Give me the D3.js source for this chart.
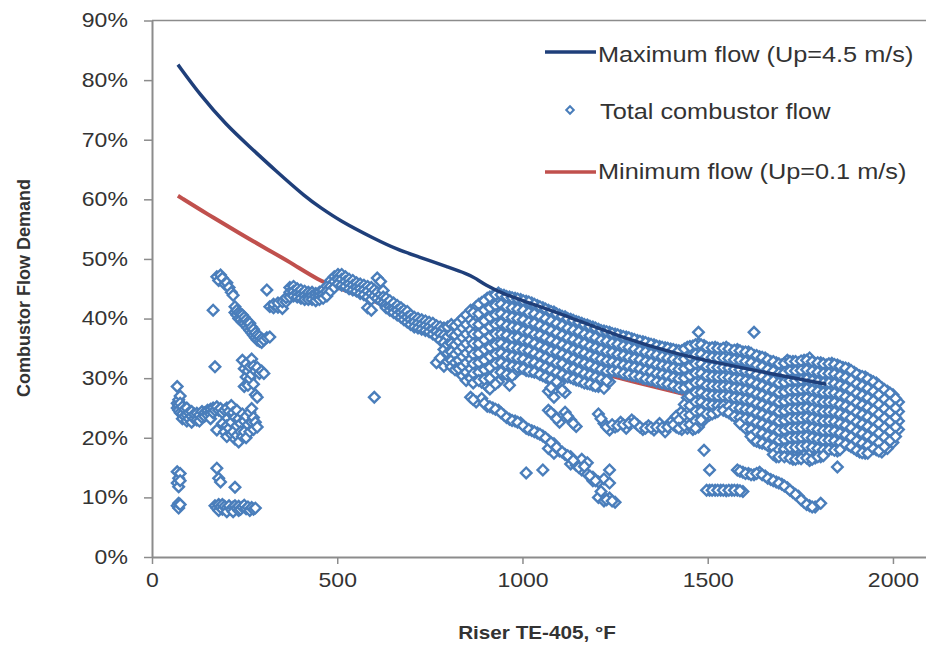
<!DOCTYPE html>
<html>
<head>
<meta charset="utf-8">
<script src="https://cdn.jsdelivr.net/npm/d3@7"></script>
<style>
  body { margin: 0; background: #fff; }
  text { font-family: "Liberation Sans", Arial, sans-serif; fill: #333; }
</style>
</head>
<body>
<svg width="926" height="646"></svg>
<script>
// x ticks (deg F) and y ticks (%)
var xTicks = [0, 500, 1000, 1500, 2000];
var yTicks = [0, 10, 20, 30, 40, 50, 60, 70, 80, 90];

// Maximum flow (Up=4.5 m/s)
var maxFlowX = [70, 130, 200, 264, 330, 418, 453, 507, 600, 661, 723, 800, 850, 870, 900, 947, 1000, 1101, 1263, 1425, 1533, 1650, 1785, 1820];
var maxFlowY = [82.6, 77.5, 72.5, 68.8, 65.0, 60.2, 58.7, 56.4, 53.4, 51.6, 50.3, 48.6, 47.5, 46.9, 45.6, 44.2, 43.0, 40.9, 36.9, 33.9, 32.5, 31.0, 29.4, 29.0];

// Minimum flow (Up=0.1 m/s)
var minFlowX = [70, 150, 237, 300, 372, 453, 500, 600, 705, 800, 900, 1000, 1100, 1190, 1300, 1450];
var minFlowY = [60.6, 57.5, 54.3, 52.0, 49.5, 46.3, 45.2, 42.9, 40.6, 38.7, 36.9, 35.0, 33.0, 31.2, 29.4, 27.1];

// Total combustor flow: [temperature, [flow %, ...]] read column by column
var totalFlow = [
  [68,[28.6,25.8,25.0,14.3,12.4,8.6]],
  [72,[26.4,25.4,24.6,13.2,11.8,8.2,9.0]],
  [76,[27.0,25.8,24.2,14.0,12.8,8.8]],
  [82,[25.2,24.0,23.2]],
  [88,[24.8,23.6]],
  [94,[25.0,23.8,22.8]],
  [100,[24.2,23.2]],
  [107,[23.6,22.6,24.4]],
  [114,[23.2,24.0]],
  [121,[24.1,23.0]],
  [128,[23.8,22.8]],
  [135,[24.4,23.4]],
  [142,[24.2,23.6]],
  [150,[24.6,23.8]],
  [158,[24.8,24.0,23.2]],
  [165,[25.0,24.2,41.4]],
  [170,[31.9,24.6,8.6]],
  [175,[47.0,25.2,21.3,14.9,8.2]],
  [180,[46.4,24.6,13.2,8.8,7.8]],
  [185,[47.3,24.9,12.6,8.4]],
  [190,[46.8,24.2,22.4,8.0,8.8]],
  [196,[45.8,24.6,21.0,8.5]],
  [202,[46.0,25.0,20.2,22.0,8.2,7.6]],
  [208,[45.2,24.4,21.6,8.6]],
  [214,[44.4,25.4,22.6,20.6,8.0]],
  [219,[43.9,24.2,21.0,8.4,7.6]],
  [224,[42.0,41.0,23.4,19.8,11.7,8.6]],
  [229,[41.4,40.6,24.6,22.0,20.4,8.2]],
  [234,[41.0,40.0,23.2,19.3,8.5,7.8]],
  [239,[40.8,39.8,22.4,21.0,8.0]],
  [244,[40.6,39.4,33.0,24.0,20.2,8.4]],
  [249,[40.2,39.2,31.6,28.6,22.8,21.0,8.7]],
  [254,[39.8,38.8,32.4,30.2,23.6,20.0,8.1]],
  [259,[39.4,38.4,31.2,28.8,22.2,8.4]],
  [264,[39.2,38.0,31.9,29.9,24.3,21.0,7.8]],
  [269,[38.6,37.6,33.2,30.6,24.9,22.6,8.3]],
  [274,[38.2,37.2,32.0,29.0,23.4,21.4,8.0]],
  [279,[37.6,36.8,31.2,27.2,22.6,8.2]],
  [284,[37.2,36.4,31.8,26.8,21.8]],
  [290,[37.0,36.2,30.8]],
  [296,[36.6,36.0,31.2]],
  [302,[36.4,30.8]],
  [310,[44.8,36.8]],
  [318,[42.0,36.9]],
  [328,[41.8,42.4]],
  [340,[41.9,42.6]],
  [352,[41.7,42.8]],
  [362,[42.8,43.5]],
  [372,[45.2,44.4,43.6]],
  [382,[45.4,44.6,43.8]],
  [392,[45.0,44.2,43.6]],
  [402,[44.8,44.0,43.4]],
  [412,[44.6,43.8,43.2]],
  [422,[44.4,43.6,43.2]],
  [432,[44.4,43.8,43.2]],
  [442,[44.2,43.6,43.0]],
  [452,[44.4,43.8,43.2]],
  [462,[44.8,44.0,43.4]],
  [472,[45.4,44.6,43.8]],
  [482,[46.4,45.4,44.6]],
  [492,[47.0,46.2,45.2]],
  [502,[47.4,46.6,45.8]],
  [512,[47.4,46.6,45.6]],
  [522,[47.0,46.2,45.4]],
  [532,[46.6,45.8,45.0]],
  [542,[46.4,45.6,44.8]],
  [552,[46.0,45.2,44.6]],
  [562,[45.8,45.0,44.2]],
  [572,[45.6,44.8,44.0]],
  [582,[45.4,44.6,43.6,41.8]],
  [592,[45.2,44.2,43.2,41.4]],
  [600,[44.8,43.8,26.8]],
  [608,[46.8,44.4,43.4]],
  [617,[46.2,44.0,43.0]],
  [624,[44.7,43.6,42.6]],
  [632,[43.4,42.4,41.8]],
  [642,[43.0,42.0,41.4]],
  [652,[42.6,41.6,41.0]],
  [662,[42.2,41.4,40.6]],
  [672,[41.8,41.0,40.2]],
  [680,[41.4,40.6,39.8]],
  [689,[41.2,40.2,39.4]],
  [698,[40.6,39.8,39.0]],
  [708,[40.2,39.4,38.6]],
  [718,[40.0,39.2,38.4]],
  [728,[39.8,39.0,38.2]],
  [738,[39.6,38.8,38.0]],
  [748,[39.4,38.6,37.8]],
  [758,[39.2,38.2,37.4]],
  [768,[38.8,37.8,37.0,32.6]],
  [778,[38.6,37.4,36.4,33.4]],
  [788,[38.4,37.2,36.0,34.8,32.0]],
  [798,[38.6,37.0,35.6,34.2,32.8]],
  [808,[39.0,37.4,35.8,34.4,33.0,31.9]],
  [818,[38.8,37.2,35.6,34.0,32.6,31.4]],
  [828,[39.4,37.8,36.2,34.6,33.0,31.6]],
  [838,[40.0,38.4,36.8,35.2,33.6,32.0,30.4]],
  [848,[40.6,39.0,37.4,35.8,34.2,32.6,31.0,29.6]],
  [860,[41.4,39.8,38.1,36.5,34.8,33.2,31.6,30.0,26.8]],
  [875,[42.0,40.5,38.9,37.2,35.6,33.9,32.3,30.6,26.0]],
  [890,[42.7,41.0,39.3,37.7,36.0,34.4,32.7,31.0,29.3,26.6]],
  [905,[43.4,41.8,40.1,38.5,36.8,35.2,33.5,31.9,30.2,28.6,25.3]],
  [920,[43.8,42.1,40.4,38.8,37.1,35.5,33.8,32.2,30.5,28.9,25.0]],
  [935,[44.3,42.6,41.0,39.3,37.7,36.0,34.4,32.7,31.1,29.4,24.6]],
  [950,[43.9,42.3,40.6,39.0,37.3,35.7,34.0,32.4,30.7,23.8]],
  [965,[43.6,41.9,40.3,38.6,37.0,35.3,33.7,32.0,30.4,28.8,23.1]],
  [980,[43.4,41.7,40.0,38.4,36.7,35.1,33.4,31.8,30.8,22.8]],
  [995,[43.2,41.5,39.9,38.2,36.6,34.9,33.3,31.6,22.5]],
  [1010,[42.9,41.2,39.6,37.9,36.3,34.6,33.0,31.3,21.6,14.1]],
  [1025,[42.6,41.0,39.3,37.7,36.0,34.4,32.7,31.1,21.2]],
  [1040,[42.2,40.6,38.9,37.3,35.6,34.0,32.3,30.9,20.8]],
  [1055,[41.8,40.2,38.5,36.9,35.2,33.6,31.9,30.4,20.3,14.6]],
  [1070,[41.4,39.8,38.2,36.6,34.8,33.2,31.5,29.9,27.8,24.6,19.6,18.2]],
  [1085,[41.1,39.5,37.8,36.2,34.5,32.9,31.2,29.6,28.0,26.8,23.8,19.0,17.4]],
  [1100,[40.6,39.0,37.4,35.8,34.1,32.5,30.8,29.2,22.6,17.8]],
  [1115,[40.3,38.7,37.0,35.4,33.7,32.1,30.4,27.6,24.3,17.2]],
  [1130,[39.9,38.3,36.7,35.0,33.4,31.7,30.1,23.0,16.8,15.6]],
  [1145,[39.5,37.9,36.3,34.6,33.0,31.3,29.7,21.9,15.4]],
  [1160,[39.2,37.6,35.9,34.3,32.6,31.0,29.4,16.4,14.6]],
  [1175,[38.9,37.3,35.6,34.0,32.3,30.7,29.1,13.9,15.8]],
  [1190,[38.6,36.9,35.3,33.6,32.0,30.3,28.8,13.4,12.8]],
  [1205,[38.2,36.6,34.9,33.3,31.6,30.0,28.6,24.0,12.6,10.0]],
  [1220,[37.9,36.3,34.6,33.0,31.3,29.7,28.3,22.4,13.1,9.4]],
  [1235,[37.7,36.0,34.4,32.7,31.1,29.4,21.3,14.6,9.9,12.4]],
  [1250,[37.4,35.8,34.2,32.6,31.2,21.8,9.2]],
  [1265,[37.1,35.5,33.9,32.3,31.0,22.6]],
  [1280,[36.9,35.3,33.7,32.1,30.7,21.6]],
  [1295,[36.6,35.0,33.4,31.9,30.5,23.0]],
  [1310,[36.3,34.8,33.2,31.7,30.3,22.2]],
  [1325,[36.1,34.5,33.0,31.5,30.0,21.4]],
  [1340,[35.8,34.3,32.7,31.2,29.8,22.0]],
  [1355,[35.6,34.0,32.5,31.0,29.6,21.3]],
  [1370,[35.3,33.8,32.2,30.7,29.3,22.4]],
  [1385,[35.1,33.5,32.0,30.5,29.1,21.0]],
  [1400,[34.9,33.3,31.8,30.3,28.9,22.6]],
  [1415,[34.7,33.1,31.6,30.0,28.6,23.6,21.8]],
  [1430,[34.6,33.0,31.4,29.8,28.3,24.4,21.4]],
  [1445,[35.2,33.5,31.8,30.1,28.4,26.7,25.0,23.3,21.6]],
  [1460,[35.4,33.8,32.2,30.6,29.0,27.4,25.8,24.2,22.6,21.4]],
  [1475,[37.7,35.8,34.2,32.6,31.0,29.4,27.8,26.2,24.6,23.0,21.8]],
  [1490,[35.5,33.9,32.3,30.7,29.1,27.5,25.9,24.3,23.0,17.9]],
  [1505,[35.0,33.4,31.8,30.2,28.6,27.0,25.4,23.8,14.6,11.2]],
  [1520,[35.2,33.6,32.0,30.4,28.8,27.2,25.6,24.2,11.2]],
  [1535,[34.8,33.2,31.6,30.0,28.4,26.8,25.2,11.2]],
  [1550,[35.2,33.6,32.0,30.4,28.8,27.2,25.6,24.4,11.1]],
  [1565,[34.6,33.0,31.4,29.8,28.2,26.6,25.0,23.8,11.2]],
  [1580,[34.8,33.2,31.6,30.0,28.4,26.8,25.2,23.6,14.6,11.2]],
  [1595,[34.4,32.8,31.2,29.6,28.0,26.4,24.8,23.2,22.0,14.2,11.0]],
  [1610,[34.4,32.8,31.2,29.6,28.0,26.4,24.8,23.2,21.6,14.0]],
  [1625,[37.7,33.8,32.2,30.6,29.0,27.4,25.8,24.2,22.6,21.0,19.6,13.8]],
  [1640,[33.6,32.0,30.4,28.8,27.2,25.6,24.0,22.4,20.8,19.2,14.2]],
  [1655,[33.4,31.8,30.2,28.6,27.0,25.4,23.8,22.2,20.6,19.0,13.6]],
  [1670,[32.8,31.2,29.6,28.0,26.4,24.8,23.2,21.6,20.0,18.4,13.0]],
  [1685,[32.6,31.0,29.4,27.8,26.2,24.6,23.0,21.4,19.8,18.2,16.8,12.6]],
  [1700,[32.2,30.6,29.0,27.4,25.8,24.2,22.6,21.0,19.4,17.8,12.2]],
  [1715,[33.0,31.4,29.8,28.2,26.6,25.0,23.4,21.8,20.2,18.6,17.0,11.6]],
  [1730,[32.8,31.2,29.6,28.0,26.4,24.8,23.2,21.6,20.0,18.4,16.4,10.8]],
  [1745,[32.6,31.0,29.4,27.8,26.2,24.6,23.0,21.4,19.8,18.2,16.6,10.2]],
  [1760,[33.0,31.4,29.8,28.2,26.6,25.0,23.4,21.8,20.2,18.6,17.0,9.2]],
  [1775,[33.4,31.6,30.0,28.4,26.8,25.2,23.6,22.0,20.4,18.8,17.2,16.2,8.6]],
  [1790,[32.4,30.8,29.2,27.6,26.0,24.4,22.8,21.2,19.6,18.0,16.6,8.4]],
  [1805,[32.6,31.0,29.4,27.8,26.2,24.6,23.0,21.4,19.8,18.2,16.8,9.0]],
  [1820,[32.2,30.6,29.0,27.4,25.8,24.2,22.6,21.0,19.4,17.8]],
  [1835,[32.5,30.9,29.3,27.7,26.1,24.5,22.9,21.3,19.7,18.1]],
  [1850,[32.2,30.6,29.0,27.4,25.8,24.2,22.6,21.0,19.4,17.8,15.1]],
  [1865,[31.8,30.2,28.6,27.0,25.4,23.8,22.2,20.6,19.0]],
  [1880,[31.6,30.0,28.4,26.8,25.2,23.6,22.0,20.4,18.8]],
  [1895,[31.0,29.4,27.8,26.2,24.6,23.0,21.4,19.8,18.2]],
  [1910,[30.4,28.8,27.2,25.6,24.0,22.4,20.8,19.2,17.6]],
  [1925,[30.2,28.6,27.0,25.4,23.8,22.2,20.6,19.0,17.4]],
  [1940,[29.6,28.0,26.4,24.8,23.2,21.6,20.0,18.4]],
  [1955,[29.2,27.6,26.0,24.4,22.8,21.2,19.6,18.0]],
  [1970,[28.4,26.8,25.2,23.6,22.0,20.4,18.8,17.6]],
  [1985,[27.8,26.2,24.6,23.0,21.4,19.8,18.2]],
  [2000,[27.2,25.6,24.0,22.4,20.8,19.2]],
  [2015,[26.0,24.4,22.8,21.4]]
];

// Total combustor flow, in-between readings of the dense part above 860 deg F
var totalFlowDense = [
  [867,[41.0,39.2,37.4,35.8,34.0,32.4,30.8,29.2,26.4]],
  [882,[42.4,40.8,39.0,37.4,35.8,34.2,32.6,31.0,29.6]],
  [897,[43.0,41.4,39.6,38.0,36.4,34.8,33.0,31.4,29.8,25.8]],
  [912,[43.6,41.8,40.2,38.6,37.0,35.2,33.6,31.8,30.0,28.2,25.2]],
  [927,[44.0,42.2,40.6,39.0,37.4,35.6,34.0,32.4,30.8,29.0,24.8]],
  [942,[44.0,42.4,40.8,39.2,37.4,35.8,34.2,32.6,31.0,24.2]],
  [957,[43.7,42.0,40.4,38.8,37.2,35.4,33.8,32.2,30.6,23.4]],
  [972,[43.5,41.8,40.2,38.6,36.8,35.2,33.6,32.0,30.4,22.9]],
  [987,[43.3,41.6,40.0,38.4,36.8,35.0,33.4,31.8,22.6]],
  [1002,[43.0,41.4,39.8,38.0,36.4,34.8,33.2,31.6,22.0]],
  [1017,[42.8,41.0,39.4,37.8,36.2,34.6,32.8,31.2,21.4]],
  [1032,[42.4,40.8,39.2,37.4,35.8,34.2,32.6,31.0,21.0]],
  [1047,[42.0,40.4,38.8,37.2,35.4,33.8,32.2,30.6,20.6]],
  [1062,[41.6,40.0,38.4,36.8,35.0,33.4,31.8,30.2,20.0]],
  [1077,[41.2,39.6,38.0,36.4,34.6,33.0,31.4,29.8,28.4,24.2,19.2]],
  [1092,[40.8,39.2,37.6,36.0,34.4,32.6,31.0,29.4,23.2,18.4]],
  [1107,[40.4,38.8,37.2,35.6,34.0,32.4,30.6,28.0,17.6]],
  [1122,[40.0,38.4,36.8,35.2,33.6,31.8,30.2,23.6,17.0]],
  [1137,[39.7,38.1,36.5,34.8,33.2,31.6,29.9,22.4,16.2]],
  [1152,[39.4,37.8,36.1,34.5,32.8,31.2,29.6,15.0]],
  [1167,[39.0,37.4,35.8,34.2,32.5,30.8,29.2,15.2]],
  [1182,[38.7,37.1,35.4,33.8,32.2,30.5,29.0,13.6]],
  [1197,[38.4,36.8,35.1,33.5,31.8,30.2,28.7,12.8]],
  [1212,[38.0,36.4,34.8,33.2,31.5,29.9,23.2,11.0]],
  [1227,[37.8,36.2,34.5,32.9,31.2,29.6,21.8,9.6]],
  [1242,[37.5,35.9,34.3,32.7,31.2,22.2,9.4]],
  [1257,[37.3,35.7,34.0,32.4,31.1,22.0]],
  [1272,[37.0,35.4,33.8,32.2,30.8,22.2]],
  [1287,[36.8,35.2,33.5,32.0,30.6,22.4]],
  [1302,[36.5,34.9,33.3,31.8,30.4,22.6]],
  [1317,[36.2,34.6,33.1,31.6,30.2,21.8]],
  [1332,[36.0,34.4,32.8,31.3,29.9,21.6]],
  [1347,[35.7,34.1,32.6,31.1,29.7,21.7]],
  [1362,[35.4,33.9,32.3,30.8,29.4,21.8]],
  [1377,[35.2,33.6,32.1,30.6,29.2,21.7]],
  [1392,[35.0,33.4,31.9,30.4,29.0,21.8]],
  [1407,[34.8,33.2,31.7,30.1,28.7,22.2]],
  [1422,[34.6,33.0,31.5,29.9,28.4,23.0,21.6]],
  [1437,[34.9,33.2,31.6,30.0,28.4,25.6,23.8,22.0]],
  [1452,[35.3,33.6,32.0,30.4,28.8,27.0,25.4,23.8,22.2]],
  [1467,[35.6,34.0,32.4,30.8,29.2,27.6,26.0,24.4,22.8,21.6]],
  [1482,[35.6,34.0,32.4,30.8,29.2,27.6,26.0,24.4,23.0]],
  [1497,[35.2,33.6,32.0,30.4,28.8,27.2,25.6,24.0,11.2]],
  [1512,[35.1,33.5,31.9,30.3,28.7,27.1,25.5,24.0,11.2]],
  [1527,[35.0,33.4,31.8,30.2,28.6,27.0,25.4,24.4,11.2]],
  [1542,[35.0,33.4,31.8,30.2,28.6,27.0,25.4,24.6,11.2]],
  [1557,[34.9,33.3,31.7,30.1,28.5,26.9,25.3,24.2,11.2]],
  [1572,[34.7,33.1,31.5,29.9,28.3,26.7,25.1,23.6,11.2]],
  [1587,[34.6,33.0,31.4,29.8,28.2,26.6,25.0,23.4,22.4,14.4,11.1]],
  [1602,[34.4,32.8,31.2,29.6,28.0,26.4,24.8,23.2,21.6,14.0]],
  [1617,[34.2,32.6,31.0,29.4,27.8,26.2,24.6,23.0,21.4,20.2,13.8]],
  [1632,[33.8,32.2,30.6,29.0,27.4,25.8,24.2,22.6,21.0,19.4,14.0]],
  [1647,[33.5,31.9,30.3,28.7,27.1,25.5,23.9,22.3,20.7,19.1,13.8]],
  [1662,[33.1,31.5,29.9,28.3,26.7,25.1,23.5,21.9,20.3,18.7,13.2]],
  [1677,[32.8,31.2,29.6,28.0,26.4,24.8,23.2,21.6,20.0,18.4,17.2,12.8]],
  [1692,[32.4,30.8,29.2,27.6,26.0,24.4,22.8,21.2,19.6,18.0,16.8,12.4]],
  [1707,[32.5,30.9,29.3,27.7,26.1,24.5,22.9,21.3,19.7,18.1,16.8,11.9]],
  [1722,[32.8,31.2,29.6,28.0,26.4,24.8,23.2,21.6,20.0,18.4,16.6,11.2]],
  [1737,[32.8,31.2,29.6,28.0,26.4,24.8,23.2,21.6,20.0,18.4,16.4,10.5]],
  [1752,[32.9,31.3,29.7,28.1,26.5,24.9,23.3,21.7,20.1,18.5,16.5,9.6]],
  [1767,[33.0,31.4,29.8,28.2,26.6,25.0,23.4,21.8,20.2,18.6,16.6,8.8]],
  [1782,[32.8,31.2,29.6,28.0,26.4,24.8,23.2,21.6,20.0,18.4,16.4,8.4]],
  [1797,[32.6,31.0,29.4,27.8,26.2,24.6,23.0,21.4,19.8,18.2,16.8]],
  [1812,[32.4,30.8,29.2,27.6,26.0,24.4,22.8,21.2,19.6,18.0,17.0]],
  [1827,[32.4,30.8,29.2,27.6,26.0,24.4,22.8,21.2,19.6,18.0]],
  [1842,[32.3,30.7,29.1,27.5,25.9,24.3,22.7,21.1,19.5,17.9]],
  [1857,[32.0,30.4,28.8,27.2,25.6,24.0,22.4,20.8,19.2,18.0]],
  [1872,[31.7,30.1,28.5,26.9,25.3,23.7,22.1,20.5,18.9]],
  [1887,[31.3,29.7,28.1,26.5,24.9,23.3,21.7,20.1,18.5]],
  [1902,[30.7,29.1,27.5,25.9,24.3,22.7,21.1,19.5,17.9]],
  [1917,[30.3,28.7,27.1,25.5,23.9,22.3,20.7,19.1,17.5]],
  [1932,[29.9,28.3,26.7,25.1,23.5,21.9,20.3,18.7,17.4]],
  [1947,[29.4,27.8,26.2,24.6,23.0,21.4,19.8,18.2]],
  [1962,[28.8,27.2,25.6,24.0,22.4,20.8,19.2,17.8]],
  [1977,[28.1,26.5,24.9,23.3,21.7,20.1,18.5]],
  [1992,[27.5,25.9,24.3,22.7,21.1,19.5]],
  [2007,[26.6,25.0,23.4,21.8,20.2]]
];

var svg = d3.select('svg');
var stretch = 'scale(1.15,1)';

var x = d3.scaleLinear().domain([0, 2100]).range([152, 930]);
var y = d3.scaleLinear().domain([0, 90]).range([557, 20.5]);

// top border of the plot area
svg.append('line')
    .attr('x1', x(0)).attr('x2', x(2100))
    .attr('y1', y(90)).attr('y2', y(90))
    .attr('stroke', '#8c8c8c')
    .attr('stroke-width', 1.5);

// axes
var yAxis = svg.append('g')
    .attr('transform', 'translate(' + x(0) + ',0)')
    .call(d3.axisLeft(y).tickValues(yTicks).tickSize(8).tickSizeOuter(0).tickPadding(13)
        .tickFormat(function(d) { return d + '%'; }));

var xAxis = svg.append('g')
    .attr('transform', 'translate(0,' + y(0) + ')')
    .call(d3.axisBottom(x).tickValues(xTicks).tickSize(7).tickSizeOuter(0).tickPadding(9)
        .tickFormat(d3.format('d')));

[yAxis, xAxis].forEach(function(g) {
    g.attr('font-size', 20).attr('font-family', '"Liberation Sans", Arial, sans-serif');
    g.select('.domain').attr('stroke', '#8c8c8c').attr('stroke-width', 2);
    g.selectAll('.tick line').attr('stroke', '#8c8c8c').attr('stroke-width', 1.5);
    g.selectAll('.tick text').attr('fill', '#333').attr('transform', stretch);
});

// flow limit curves
var line = d3.line()
    .x(function(d) { return x(d[0]); })
    .y(function(d) { return y(d[1]); })
    .curve(d3.curveBasis);

// minimum flow sits under the scatter
svg.append('path')
    .datum(d3.zip(minFlowX, minFlowY))
    .attr('d', line)
    .attr('fill', 'none')
    .attr('stroke', '#c0504d')
    .attr('stroke-width', 4);

// scatter of total combustor flow
var points = [];
totalFlow.concat(totalFlowDense).forEach(function(col) {
    col[1].forEach(function(v) { points.push([col[0], v]); });
});

var diamond = d3.symbol().type(d3.symbolSquare).size(56);

svg.append('g')
    .selectAll('path')
    .data(points)
    .enter()
    .append('path')
        .attr('d', diamond)
        .attr('transform', function(d) {
            return 'translate(' + x(d[0]) + ',' + y(d[1]) + ') rotate(45)';
        })
        .attr('fill', '#fff')
        .attr('stroke', '#4a7ebb')
        .attr('stroke-width', 2.4);

// maximum flow drawn over the scatter
svg.append('path')
    .datum(d3.zip(maxFlowX, maxFlowY))
    .attr('d', line)
    .attr('fill', 'none')
    .attr('stroke', '#1f3f7a')
    .attr('stroke-width', 3.5);

// legend
var legend = svg.append('g');

legend.append('line')
    .attr('x1', 545).attr('x2', 596).attr('y1', 52).attr('y2', 52)
    .attr('stroke', '#1f3f7a').attr('stroke-width', 3.5);
legend.append('text')
    .attr('transform', 'translate(598,61.5) ' + stretch)
    .attr('font-size', 22)
    .text('Maximum flow (Up=4.5 m/s)');

legend.append('path')
    .attr('d', d3.symbol().type(d3.symbolSquare).size(28))
    .attr('transform', 'translate(570,110) rotate(45)')
    .attr('fill', '#fff')
    .attr('stroke', '#4a7ebb')
    .attr('stroke-width', 2);
legend.append('text')
    .attr('transform', 'translate(600,118.5) ' + stretch)
    .attr('font-size', 22)
    .text('Total combustor flow');

legend.append('line')
    .attr('x1', 545).attr('x2', 596).attr('y1', 172).attr('y2', 172)
    .attr('stroke', '#c0504d').attr('stroke-width', 3.5);
legend.append('text')
    .attr('transform', 'translate(598,178.5) ' + stretch)
    .attr('font-size', 22)
    .text('Minimum flow (Up=0.1 m/s)');

// axis titles
svg.append('text')
    .attr('transform', 'translate(537,639) ' + stretch)
    .attr('text-anchor', 'middle')
    .attr('font-size', 18)
    .attr('font-weight', 'bold')
    .text('Riser TE-405, °F');

svg.append('text')
    .attr('transform', 'translate(30,288) rotate(-90)')
    .attr('text-anchor', 'middle')
    .attr('font-size', 18)
    .attr('font-weight', 'bold')
    .text('Combustor Flow Demand');
</script>
</body>
</html>
